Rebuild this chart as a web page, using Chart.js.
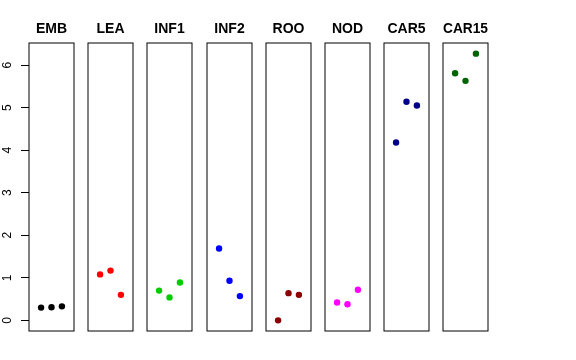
<!DOCTYPE html>
<html>
<head>
<meta charset="utf-8">
<script src="https://cdn.jsdelivr.net/npm/chart.js@4"></script>
<style>
  html, body { margin: 0; padding: 0; background: #fff; }
  #wrap { position: relative; width: 576px; height: 360px; overflow: hidden; }
  #wrap canvas { position: absolute; top: 0; }
</style>
</head>
<body>
<div id="wrap"></div>
<script>
'use strict'
const categories = ['EMB', 'LEA', 'INF1', 'INF2', 'ROO', 'NOD', 'CAR5', 'CAR15']
const colors = ['#000000', '#FF0000', '#00CD00', '#0000FF', '#8B0000', '#FF00FF', '#00008B', '#006400']
const xValues = [1, 2, 3]
const EMB = [0.30, 0.31, 0.33]
const LEA = [1.08, 1.17, 0.60]
const INF1 = [0.70, 0.54, 0.89]
const INF2 = [1.69, 0.93, 0.57]
const ROO = [0.00, 0.64, 0.60]
const NOD = [0.42, 0.38, 0.72]
const CAR5 = [4.18, 5.14, 5.05]
const CAR15 = [5.81, 5.63, 6.27]
const series = [EMB, LEA, INF1, INF2, ROO, NOD, CAR5, CAR15]
const yTicks = [0, 1, 2, 3, 4, 5, 6]

const wrap = document.getElementById('wrap')
const FONT = '"Liberation Sans", Arial, Helvetica, sans-serif'
const BOX_W = 45
const GAP = 59.2
const FIRST_LEFT = 29
const AXIS_W = 29
const SIDE = 8

// box around each panel, like R's box()
const boxPlugin = {
  id: 'box',
  afterDraw(chart) {
    const { left, top, right, bottom } = chart.chartArea
    const c = chart.ctx
    c.save()
    c.strokeStyle = '#000'
    c.lineWidth = 1
    c.strokeRect(left, top, right - left, bottom - top)
    c.restore()
  },
}

categories.forEach((name, i) => {
  const first = i === 0
  const boxLeft = FIRST_LEFT + i * GAP
  const canvasLeft = Math.round(first ? 0 : boxLeft - SIDE)
  const width = first ? AXIS_W + BOX_W + SIDE : BOX_W + 2 * SIDE

  const canvas = document.createElement('canvas')
  canvas.width = width
  canvas.height = 360
  canvas.style.left = canvasLeft + 'px'
  wrap.appendChild(canvas)

  new Chart(canvas.getContext('2d'), {
    type: 'scatter',
    data: {
      datasets: [
        {
          data: xValues.map((x, j) => ({ x: x, y: series[i][j] })),
          backgroundColor: colors[i],
          borderWidth: 0,
          pointRadius: 3.2,
        },
      ],
    },
    options: {
      responsive: false,
      maintainAspectRatio: false,
      animation: false,
      devicePixelRatio: 1,
      layout: {
        padding: { left: first ? 0 : SIDE, right: SIDE, top: 0, bottom: 29 },
      },
      plugins: {
        legend: { display: false },
        tooltip: { enabled: false },
        title: {
          display: true,
          text: name,
          fullSize: false,
          color: '#000',
          font: { family: FONT, size: 14, weight: 'bold' },
          padding: { top: 20.6, bottom: 5.6 },
        },
      },
      scales: {
        x: {
          type: 'linear',
          min: -0.16,
          max: 4.16,
          display: false,
        },
        y: {
          type: 'linear',
          min: -0.25,
          max: 6.52,
          display: first,
          afterFit: (scale) => {
            if (first) scale.width = AXIS_W
          },
          afterBuildTicks: (scale) => {
            scale.ticks = yTicks.map((v) => ({ value: v }))
          },
          border: { display: false },
          grid: {
            drawOnChartArea: false,
            drawTicks: true,
            tickLength: 8,
            color: '#000',
            tickColor: '#000',
          },
          ticks: {
            color: '#000',
            font: { family: FONT, size: 12 },
            minRotation: 90,
            maxRotation: 90,
            crossAlign: 'center',
            padding: 9.5,
          },
        },
      },
    },
    plugins: [boxPlugin],
  })
})
</script>
</body>
</html>
